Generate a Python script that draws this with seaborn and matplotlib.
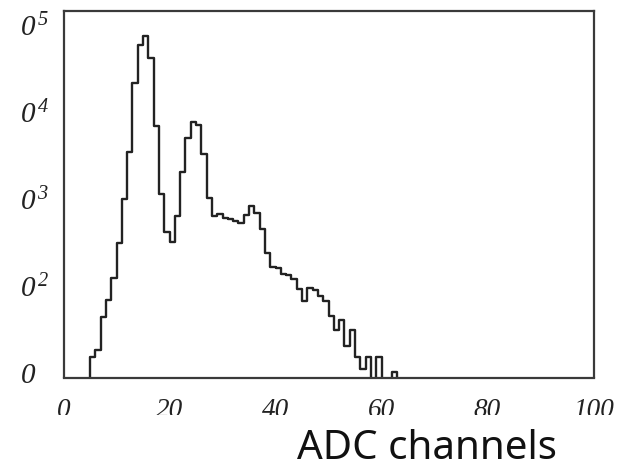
import numpy as np
import pandas as pd
import matplotlib
matplotlib.use("Agg")
import matplotlib.pyplot as plt
import seaborn as sns
from matplotlib.patches import Rectangle
from matplotlib.ticker import FixedLocator, FixedFormatter, MultipleLocator, LogLocator, NullFormatter

# ---- data ----
channels = list(range(4, 64))  # left edge of each 1-channel bin
counts = [0, 15, 18, 44, 68, 121, 310, 985, 3500, 21900,
          59100, 75100, 41900, 6930, 1130, 419, 321, 630, 2040, 5000,
          7770, 7120, 3300, 1020, 635, 661, 610, 583, 553, 532,
          657, 828, 682, 446, 238, 165, 158, 135, 133, 118,
          91, 66, 93, 89, 75, 67, 45, 31, 40, 20,
          31, 15, 11, 15, 0, 15, 0, 0, 10, 0]
x_ticks = [0, 20, 40, 60, 80, 100]
x_ticklabels = ["0", "20", "40", "60", "80", "100"]
y_ticks = [1e1, 1e2, 1e3, 1e4, 1e5]
y_ticklabels = [r"$0$", r"$0^{\,2}$", r"$0^{\,3}$", r"$0^{\,4}$", r"$0^{\,5}$"]
x_label = "ADC channels"

df = pd.DataFrame({"channel": channels, "count": counts})

sns.set_style("white")
plt.rcParams["mathtext.fontset"] = "custom"
plt.rcParams["mathtext.rm"] = "Liberation Serif:italic"
plt.rcParams["mathtext.it"] = "Liberation Serif:italic"
plt.rcParams["font.family"] = ["DejaVu Sans"]

W, H = 626, 469
fig = plt.figure(figsize=(W / 100, H / 100), dpi=100)
ax = fig.add_axes([63.5 / W, 1 - 377.5 / H, (593.5 - 63.5) / W, (377.5 - 11) / H])

edges = channels + [channels[-1] + 1]
sns.histplot(data=df, x="channel", weights="count", bins=edges,
             element="step", fill=False, color="#222222", linewidth=1.7, ax=ax)

ax.set_yscale("log")
ax.set_xlim(0, 100)
ax.set_ylim(8.71, 1.469e5)

for s in ax.spines.values():
    s.set_color("#3a3a3a")
    s.set_linewidth(1.6)

ax.xaxis.set_major_locator(FixedLocator(x_ticks))
ax.xaxis.set_major_formatter(FixedFormatter(x_ticklabels))
ax.xaxis.set_minor_locator(MultipleLocator(5))
ax.yaxis.set_major_locator(FixedLocator(y_ticks))
ax.yaxis.set_major_formatter(FixedFormatter(y_ticklabels))
ax.yaxis.set_minor_locator(LogLocator(base=10, subs=np.arange(2, 10)))
ax.yaxis.set_minor_formatter(NullFormatter())

ax.tick_params(axis="both", which="both", direction="in", color="#3a3a3a",
               top=False, right=False)
ax.tick_params(axis="y", which="major", length=5.5, width=1.2, pad=31.5, labelsize=21)
ax.tick_params(axis="y", which="minor", length=3, width=1.0)
ax.tick_params(axis="x", which="major", length=6, width=1.2, pad=15, labelsize=19.5)
ax.tick_params(axis="x", which="minor", length=3.5, width=1.0)

for lab in ax.get_yticklabels():
    lab.set_horizontalalignment("left")
    lab.set_color("#222222")
for lab in ax.get_xticklabels():
    lab.set_fontfamily("Liberation Serif")
    lab.set_fontstyle("italic")
    lab.set_color("#222222")

ax.set_xlabel("")
ax.set_ylabel("")

# the reference's x tick numbers are cut along their lower edge
fig.patches.append(Rectangle((0, 1 - 426 / H), 1, 11.5 / H, transform=fig.transFigure,
                             facecolor="white", edgecolor="none", zorder=10))

fig.text(427 / W, 0.5 / H, x_label, ha="center", va="bottom",
         fontsize=29, family="Noto Sans", color="#111111")

fig.savefig("out.png", dpi=100)
